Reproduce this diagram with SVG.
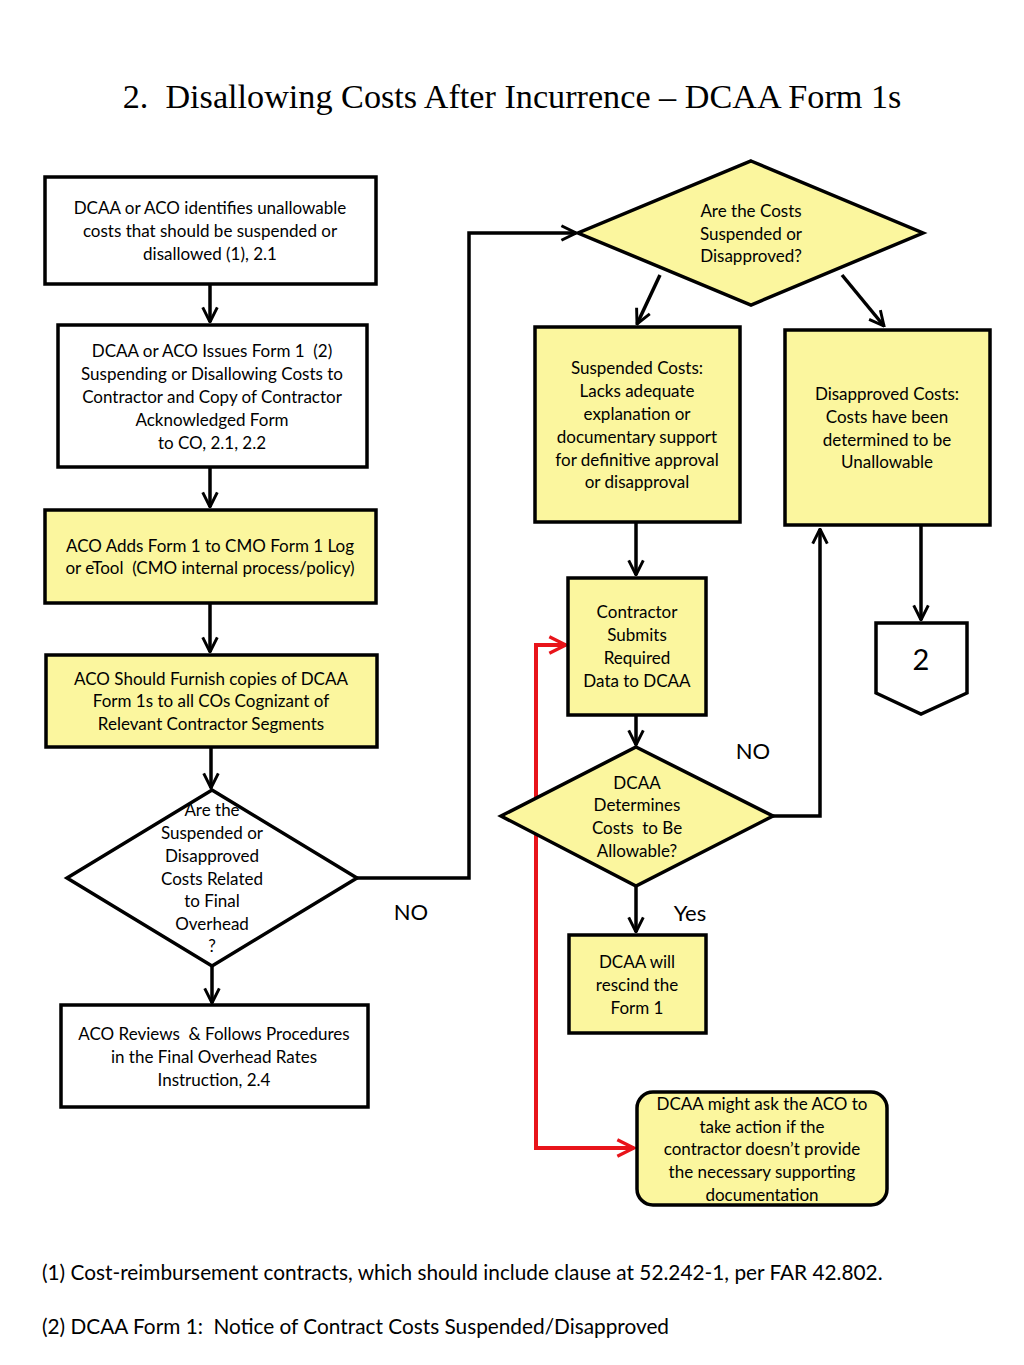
<svg xmlns="http://www.w3.org/2000/svg" width="1024" height="1365" viewBox="0 0 1024 1365">
<defs>
<style>
text{white-space:pre}
.box{fill:#ffffff;stroke:#000;stroke-width:3.5}
.yel{fill:#fbf69e;stroke:#000;stroke-width:3.5}
.t{font-family:Lato,"Open Sans","Liberation Sans",sans-serif;font-size:17px;fill:#000;text-anchor:middle}
.lbl{font-family:Lato,"Open Sans","Liberation Sans",sans-serif;font-size:22px;fill:#000;text-anchor:middle}
.fn{font-family:Lato,"Open Sans","Liberation Sans",sans-serif;font-size:20.8px;fill:#000}
.c{fill:none;stroke:#000;stroke-width:3.5}
.r{fill:none;stroke:#e8141a;stroke-width:4}
</style>
<marker id="ah" viewBox="0 0 12 12" refX="11" refY="6" markerWidth="5" markerHeight="5" markerUnits="strokeWidth" orient="auto">
<path d="M1,1 L11,6 L1,11" fill="none" stroke="#000" stroke-width="2"/>
</marker>
<marker id="ahr" viewBox="0 0 12 12" refX="11" refY="6" markerWidth="5" markerHeight="5" markerUnits="strokeWidth" orient="auto">
<path d="M1,1 L11,6 L1,11" fill="none" stroke="#e8141a" stroke-width="2"/>
</marker>
</defs>
<rect width="1024" height="1365" fill="#ffffff"/>
<text x="512" y="108" font-family="Liberation Serif,serif" font-size="34.2" text-anchor="middle" xml:space="preserve">2.  Disallowing Costs After Incurrence – DCAA Form 1s</text>

<g id="connectors">
<path class="c" d="M210,284 L210,322" marker-end="url(#ah)"/>
<path class="c" d="M210,467 L210,507" marker-end="url(#ah)"/>
<path class="c" d="M210,603 L210,652" marker-end="url(#ah)"/>
<path class="c" d="M211,747 L211,788" marker-end="url(#ah)"/>
<path class="c" d="M212,966 L212,1003" marker-end="url(#ah)"/>
<path class="c" d="M357,878 L469,878 L469,233 L576,233" marker-end="url(#ah)"/>
<path class="c" d="M660,275 L637,324" marker-end="url(#ah)"/>
<path class="c" d="M842,275 L884,326" marker-end="url(#ah)"/>
<path class="c" d="M636,522 L636,575" marker-end="url(#ah)"/>
<path class="c" d="M636,715 L636,745" marker-end="url(#ah)"/>
<path class="c" d="M773,816 L820,816 L820,529" marker-end="url(#ah)"/>
<path class="c" d="M636,886 L636,932" marker-end="url(#ah)"/>
<path class="c" d="M921,525 L921,620" marker-end="url(#ah)"/>
<path class="r" d="M566,645 L536,645 L536,1148 L634,1148" marker-end="url(#ahr)"/>
<path class="r" d="M536,645 L566,645" marker-end="url(#ahr)"/>
</g>

<g id="labels">
<text class="lbl" x="411" y="920">NO</text>
<text class="lbl" x="753" y="759">NO</text>
<text class="lbl" x="690" y="921">Yes</text>
</g>

<g id="n1">
<rect class="box" x="45" y="177" width="331" height="107"/>
<text class="t" x="210" y="214">DCAA or ACO identifies unallowable</text>
<text class="t" x="210" y="237">costs that should be suspended or</text>
<text class="t" x="210" y="260">disallowed (1), 2.1</text>
</g>
<g id="n2">
<rect class="box" x="58" y="325" width="309" height="142"/>
<text class="t" x="212" y="357" xml:space="preserve">DCAA or ACO Issues Form 1  (2)</text>
<text class="t" x="212" y="380">Suspending or Disallowing Costs to</text>
<text class="t" x="212" y="403">Contractor and Copy of Contractor</text>
<text class="t" x="212" y="426">Acknowledged Form</text>
<text class="t" x="212" y="449">to CO, 2.1, 2.2</text>
</g>
<g id="n3">
<rect class="yel" x="45" y="510" width="331" height="93"/>
<text class="t" x="210" y="552">ACO Adds Form 1 to CMO Form 1 Log</text>
<text class="t" x="210" y="574" xml:space="preserve">or eTool  (CMO internal process/policy)</text>
</g>
<g id="n4">
<rect class="yel" x="46" y="655" width="331" height="92"/>
<text class="t" x="211" y="685">ACO Should Furnish copies of DCAA</text>
<text class="t" x="211" y="707">Form 1s to all COs Cognizant of</text>
<text class="t" x="211" y="730">Relevant Contractor Segments</text>
</g>
<g id="d1">
<polygon class="box" points="212,790 357,878 212,966 67,878"/>
<text class="t" x="212" y="816">Are the</text>
<text class="t" x="212" y="839">Suspended or</text>
<text class="t" x="212" y="862">Disapproved</text>
<text class="t" x="212" y="885">Costs Related</text>
<text class="t" x="212" y="907">to Final</text>
<text class="t" x="212" y="930">Overhead</text>
<text class="t" x="212" y="952">?</text>
</g>
<g id="n5">
<rect class="box" x="61" y="1005" width="307" height="102"/>
<text class="t" x="214" y="1040" xml:space="preserve">ACO Reviews  &amp; Follows Procedures</text>
<text class="t" x="214" y="1063">in the Final Overhead Rates</text>
<text class="t" x="214" y="1086">Instruction, 2.4</text>
</g>
<g id="d2">
<polygon class="yel" points="751,161 923,233 751,305 578,233"/>
<text class="t" x="751" y="217">Are the Costs</text>
<text class="t" x="751" y="240">Suspended or</text>
<text class="t" x="751" y="262">Disapproved?</text>
</g>
<g id="n6">
<rect class="yel" x="535" y="327" width="205" height="195"/>
<text class="t" x="637" y="374">Suspended Costs:</text>
<text class="t" x="637" y="397">Lacks adequate</text>
<text class="t" x="637" y="420">explanation or</text>
<text class="t" x="637" y="443">documentary support</text>
<text class="t" x="637" y="466">for definitive approval</text>
<text class="t" x="637" y="488">or disapproval</text>
</g>
<g id="n7">
<rect class="yel" x="785" y="330" width="205" height="195"/>
<text class="t" x="887" y="400">Disapproved Costs:</text>
<text class="t" x="887" y="423">Costs have been</text>
<text class="t" x="887" y="446">determined to be</text>
<text class="t" x="887" y="468">Unallowable</text>
</g>
<g id="n8">
<rect class="yel" x="568" y="578" width="138" height="137"/>
<text class="t" x="637" y="618">Contractor</text>
<text class="t" x="637" y="641">Submits</text>
<text class="t" x="637" y="664">Required</text>
<text class="t" x="637" y="687">Data to DCAA</text>
</g>
<g id="d3">
<polygon class="yel" points="636,747 773,816 636,886 501,816"/>
<text class="t" x="637" y="789">DCAA</text>
<text class="t" x="637" y="811">Determines</text>
<text class="t" x="637" y="834" xml:space="preserve">Costs  to Be</text>
<text class="t" x="637" y="857">Allowable?</text>
</g>
<g id="n9">
<rect class="yel" x="569" y="935" width="137" height="98"/>
<text class="t" x="637" y="968">DCAA will</text>
<text class="t" x="637" y="991">rescind the</text>
<text class="t" x="637" y="1014">Form 1</text>
</g>
<g id="n10">
<polygon class="box" points="876,623 967,623 967,693 921,714 876,693"/>
<text x="921" y="670" font-family="Lato,'Open Sans','Liberation Sans',sans-serif" font-size="29" text-anchor="middle">2</text>
</g>
<g id="n11">
<rect class="yel" x="637" y="1092" width="250" height="113" rx="16"/>
<text class="t" x="762" y="1110">DCAA might ask the ACO to</text>
<text class="t" x="762" y="1133">take action if the</text>
<text class="t" x="762" y="1155">contractor doesn’t provide</text>
<text class="t" x="762" y="1178">the necessary supporting</text>
<text class="t" x="762" y="1201">documentation</text>
</g>

<text class="fn" x="42" y="1280">(1) Cost-reimbursement contracts, which should include clause at 52.242-1, per FAR 42.802.</text>
<text class="fn" x="42" y="1334" xml:space="preserve">(2) DCAA Form 1:  Notice of Contract Costs Suspended/Disapproved</text>
</svg>
